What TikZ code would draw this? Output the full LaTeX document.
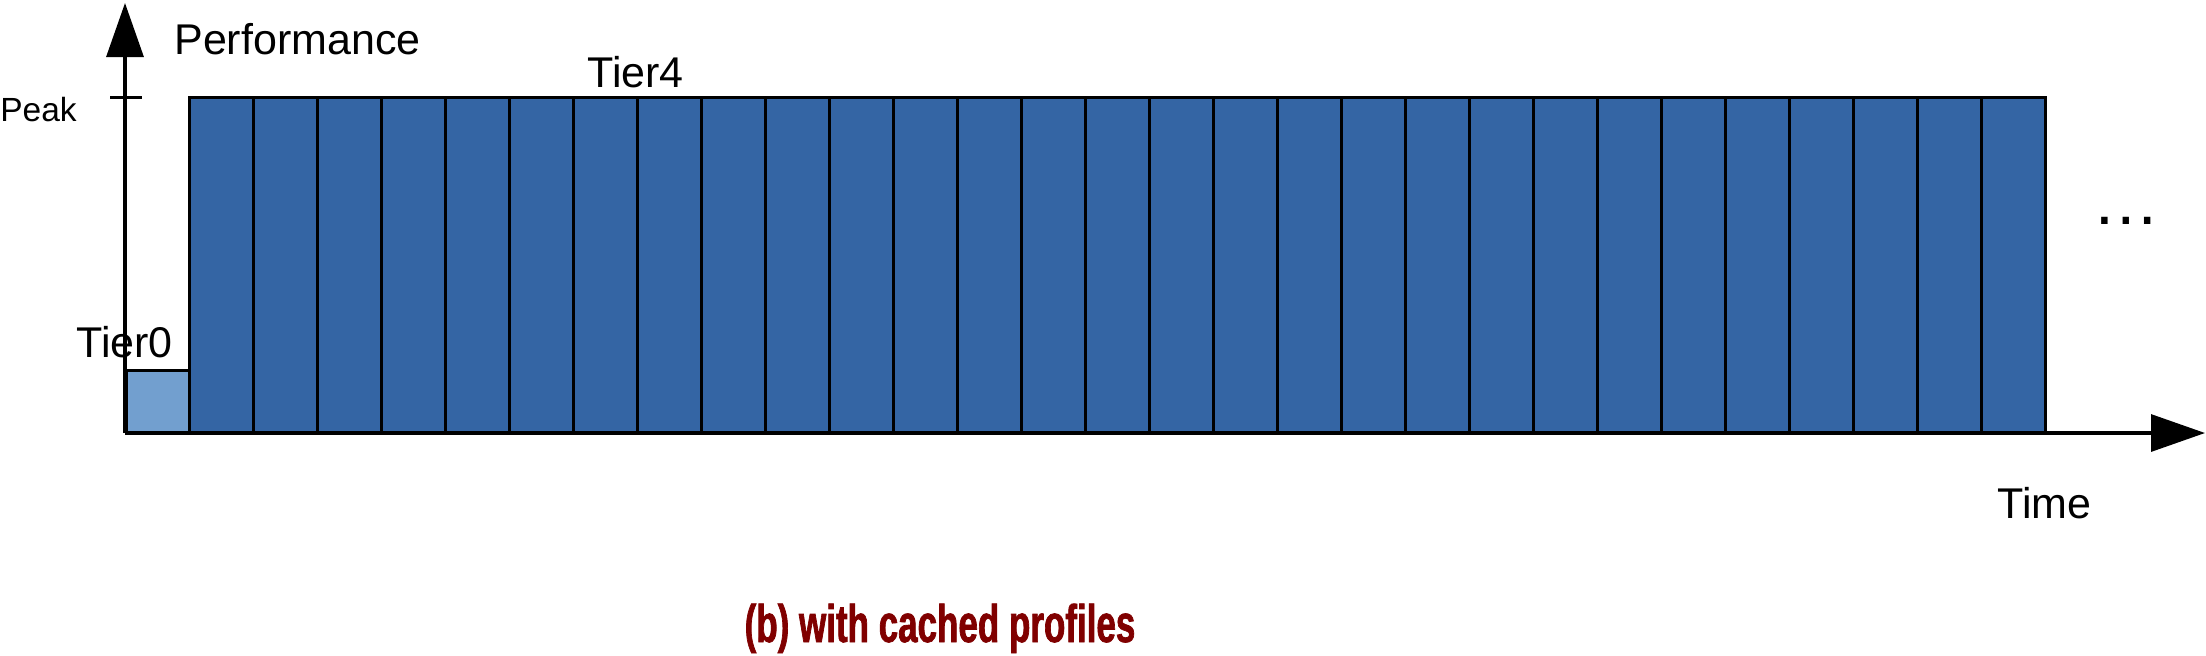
\documentclass[tikz,border=0pt]{standalone}
\usepackage{fontspec}
\setmainfont{Liberation Sans}
\newfontfamily\capfont[FakeStretch=0.66,FakeBold=1.3]{Liberation Sans Bold}
\usetikzlibrary{arrows.meta}
\definecolor{barblue}{HTML}{3465A4}
\definecolor{lightblue}{HTML}{729FCF}
\definecolor{capred}{HTML}{800000}
\begin{document}
\begin{tikzpicture}[x=0.5pt,y=-0.5pt,
  lbl/.style={font=\fontsize{21.5pt}{24pt}\selectfont, inner sep=0pt, anchor=base west},
  smalllbl/.style={font=\fontsize{16.75pt}{19pt}\selectfont, inner sep=0pt, anchor=base west},
  bar/.style={draw=black, line width=1.5pt, fill=barblue},
  tierzero/.style={draw=black, line width=1.5pt, fill=lightblue},
  axis/.style={draw=black, line width=1.6pt},
  axistip/.style={-{Triangle[length=27pt,width=18.5pt]}}]
\useasboundingbox (0,0) rectangle (2206,655);
% bars
\draw[tierzero] (126,370) rectangle (189,433);
\foreach \i in {0,...,28}{
  \draw[bar] ({189+\i*64.03},97) rectangle ({189+(\i+1)*64.03},433);
}
% axes
\coordinate (origin) at (125,433);
\coordinate (ytop) at (125,3);
\coordinate (xend) at (2205,433);
\coordinate (tickL) at (110,97.7);
\coordinate (tickR) at (142,97.7);
\draw[axis, axistip] (origin) -- (ytop);
\draw[axis, axistip] (origin) -- (xend);
\draw[axis] (tickL) -- (tickR);
% labels
\node[lbl] (perf) at (174,54) {Performance};
\node[smalllbl] (peak) at (0,121) {Peak};
\node[lbl] (tierfour) at (587,87) {Tier4};
\node[lbl] (tierzerolbl) at (76,357) {Tier0};
\node[lbl] (time) at (1997,518) {Time};
\node[font=\fontsize{33.75pt}{36pt}\selectfont, inner sep=0pt, anchor=base] (dots) at (2126.5,224) {…};
\node[font=\capfont\fontsize{26.5pt}{30pt}\selectfont, text=capred, inner sep=0pt, anchor=base] (caption) at (940,642) {(b) with cached profiles};
\end{tikzpicture}
\end{document}
